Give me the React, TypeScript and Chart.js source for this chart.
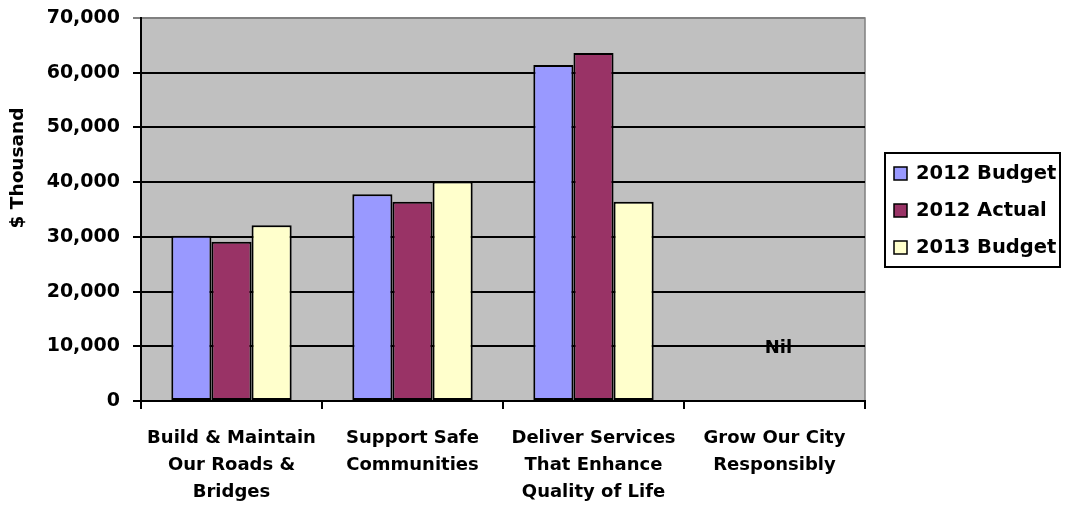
import React, { useEffect, useRef } from "react";
import { Chart, registerables } from "chart.js";

Chart.register(...registerables);

const categories: string[][] = [
  ["Build & Maintain", "Our Roads &", "Bridges"],
  ["Support Safe", "Communities"],
  ["Deliver Services", "That Enhance", "Quality of Life"],
  ["Grow Our City", "Responsibly"],
];
const budget2012: (number | null)[] = [30200, 37800, 61400, null];
const actual2012: (number | null)[] = [29100, 36400, 63600, null];
const budget2013: (number | null)[] = [32100, 40100, 36400, null];
const seriesNames = ["2012 Budget", "2012 Actual", "2013 Budget"];
const seriesColors = ["#9999FF", "#993366", "#FFFFCC"];
const nilCategoryIndex = 3;
const nilLabel = "Nil";
const yTitle = "$ Thousand";
const yMin = 0;
const yMax = 70000;
const yStep = 10000;

const FONT = "DejaVu Sans";

const bgPlugin = {
  id: "plotBg",
  beforeDraw(chart: any) {
    const { ctx, chartArea } = chart;
    ctx.save();
    ctx.fillStyle = "#FFFFFF";
    ctx.fillRect(0, 0, chart.width, chart.height);
    ctx.fillStyle = "#C0C0C0";
    ctx.fillRect(chartArea.left, chartArea.top, chartArea.right - chartArea.left, chartArea.bottom - chartArea.top);
    ctx.strokeStyle = "#808080";
    ctx.lineWidth = 1.5;
    ctx.beginPath();
    ctx.moveTo(chartArea.left, chartArea.top);
    ctx.lineTo(chartArea.right, chartArea.top);
    ctx.lineTo(chartArea.right, chartArea.bottom);
    ctx.stroke();
    ctx.restore();
  },
};

const extrasPlugin = {
  id: "extras",
  afterDraw(chart: any) {
    const { ctx, chartArea } = chart;
    const xs = chart.scales.x;
    const ys = chart.scales.y;
    ctx.save();
    // Nil label
    ctx.font = `bold 18px "${FONT}"`;
    ctx.fillStyle = "#000";
    ctx.textAlign = "center";
    ctx.textBaseline = "middle";
    ctx.fillText(nilLabel, xs.getPixelForValue(nilCategoryIndex) + 4, ys.getPixelForValue(10000) + 2);
    // Y title
    ctx.save();
    ctx.translate(18, 168);
    ctx.rotate(-Math.PI / 2);
    ctx.font = `bold 18.5px "${FONT}"`;
    ctx.textAlign = "center";
    ctx.textBaseline = "middle";
    ctx.fillText(yTitle, 0, 0);
    ctx.restore();
    // Legend
    const lx = chartArea.right + 20;
    const ly = chartArea.top + 135;
    const lw = 175;
    const lh = 114;
    ctx.fillStyle = "#FFFFFF";
    ctx.fillRect(lx, ly, lw, lh);
    ctx.strokeStyle = "#000";
    ctx.lineWidth = 2;
    ctx.strokeRect(lx, ly, lw, lh);
    ctx.font = `bold 19.5px "${FONT}"`;
    ctx.textAlign = "left";
    ctx.textBaseline = "middle";
    seriesNames.forEach((name, i) => {
      const cy = ly + 21 + i * 37;
      ctx.fillStyle = seriesColors[i];
      ctx.fillRect(lx + 9, cy - 7, 13, 13);
      ctx.strokeStyle = "#000";
      ctx.lineWidth = 1.5;
      ctx.strokeRect(lx + 9, cy - 7, 13, 13);
      ctx.fillStyle = "#000";
      ctx.fillText(name, lx + 31, cy);
    });
    ctx.restore();
  },
};

export default function App() {
  const ref = useRef<HTMLCanvasElement | null>(null);
  useEffect(() => {
    if (!ref.current) return;
    const series = [budget2012, actual2012, budget2013];
    const chart = new Chart(ref.current, {
      type: "bar",
      data: {
        labels: categories,
        datasets: series.map((d, i) => ({
          label: seriesNames[i],
          data: d,
          backgroundColor: seriesColors[i],
          borderColor: "#000",
          borderWidth: 2,
          borderSkipped: false,
          categoryPercentage: 0.665,
          barPercentage: 1.0,
        })),
      },
      options: {
        animation: false,
        responsive: false,
        layout: { padding: { top: 18, right: 203, left: 0, bottom: 0 } },
        plugins: {
          legend: { display: false },
          tooltip: { enabled: false },
          title: { display: false },
        },
        scales: {
          x: {
            afterFit: (s: any) => {
              s.height = 105;
              s.paddingLeft = 0;
              s.paddingRight = 0;
            },
            grid: {
              offset: true,
              drawOnChartArea: false,
              drawTicks: true,
              tickLength: 8,
              color: "#000",
              lineWidth: 2,
            },
            border: { color: "#000", width: 2 },
            ticks: {
              color: "#000",
              font: { family: FONT, weight: "bold", size: 18, lineHeight: 1.5 },
              padding: 16,
              maxRotation: 0,
              autoSkip: false,
            },
          },
          y: {
            min: yMin,
            max: yMax,
            afterFit: (s: any) => {
              s.width = 141;
              s.paddingTop = 0;
              s.paddingBottom = 0;
            },
            grid: {
              color: (c: any) => (c.tick && c.tick.value === yMax ? "#808080" : "#000"),
              lineWidth: 2,
              tickLength: 8,
            },
            border: { color: "#000", width: 2 },
            ticks: {
              stepSize: yStep,
              color: "#000",
              padding: 13,
              font: { family: FONT, weight: "bold", size: 19 },
              callback: (v: any) => Number(v).toLocaleString("en-US"),
            },
          },
        },
      },
      plugins: [bgPlugin, extrasPlugin],
    });
    return () => chart.destroy();
  }, []);
  return (
    <div style={{ position: "absolute", left: 0, top: 0, width: 1068, height: 506 }}>
      <canvas ref={ref} width={1068} height={506} style={{ width: 1068, height: 506, display: "block" }} />
    </div>
  );
}
